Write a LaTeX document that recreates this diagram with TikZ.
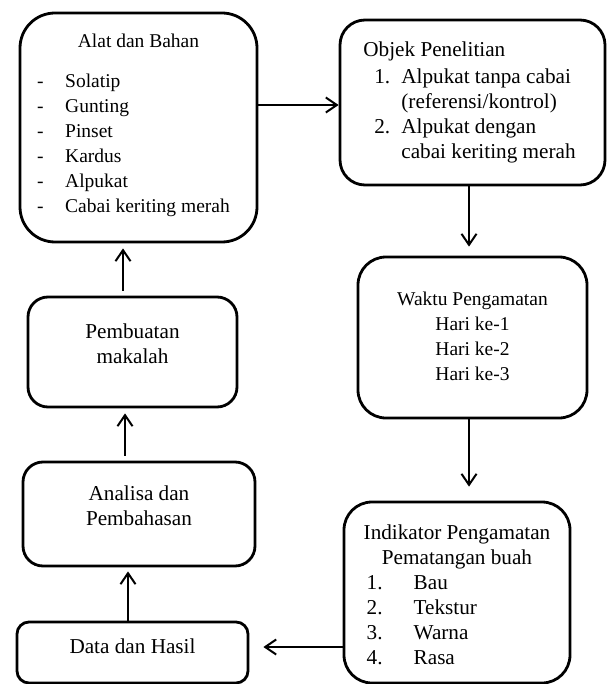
\documentclass[tikz,border=0pt]{standalone}
\usepackage{fontspec}
\setmainfont{Liberation Serif}
\usetikzlibrary{arrows.meta}
\begin{document}
\begin{tikzpicture}[x=1pt, y=-1pt,
  box/.style={draw, line width=2.8pt, rounded corners=#1, inner sep=0pt,
              font=\fontsize{19.5}{25}\selectfont},
  big/.style={font=\fontsize{21.2}{25}\selectfont},
  line/.style={-{Straight Barb[length=11pt,width=15pt]}, line width=2pt}
]
\useasboundingbox (0,0) rectangle (609,684);
\node[box=35pt, minimum width=237pt, minimum height=229pt] (alat) at (138.5,127.5)
  {\begin{tabular}{@{}p{28pt}@{}l@{\hspace{10pt}}}
   \multicolumn{2}{@{}c@{}}{Alat dan Bahan}\\[15pt]
   - & Solatip\\
   - & Gunting\\
   - & Pinset\\
   - & Kardus\\
   - & Alpukat\\
   - & Cabai keriting merah\\[4pt]
   \end{tabular}};
\node[box=25pt, big, minimum width=265pt, minimum height=165pt] (objek) at (472.5,102.5)
  {\begin{tabular}{@{}p{11pt}@{}p{27pt}@{}l@{\hspace{6pt}}}
   \multicolumn{3}{@{}l}{Objek Penelitian}\\[2pt]
   & 1. & Alpukat tanpa cabai\\
   &    & (referensi/kontrol)\\
   & 2. & Alpukat dengan\\
   &    & cabai keriting merah
   \end{tabular}};
\node[box=28pt, minimum width=229pt, minimum height=161pt] (waktu) at (472.5,337.5)
  {\begin{tabular}{@{}c@{}}
   Waktu Pengamatan\\ Hari ke-1\\ Hari ke-2\\ Hari ke-3
   \end{tabular}};
\node[box=28pt, big, minimum width=226pt, minimum height=181pt] (indik) at (457,592.5)
  {\begin{tabular}{@{}p{9pt}@{}p{47pt}@{}l@{}}
   \multicolumn{3}{c}{\rule{0pt}{27pt}Indikator Pengamatan}\\
   \multicolumn{3}{c}{Pematangan buah}\\
   & 1. & Bau\\
   & 2. & Tekstur\\
   & 3. & Warna\\
   & 4. & Rasa
   \end{tabular}};
\node[box=12pt, big, minimum width=231pt, minimum height=61pt] (data) at (132.5,652.5)
  {\begin{tabular}{@{}c@{}}Data dan Hasil\\[9pt]\end{tabular}};
\node[box=20pt, big, minimum width=232pt, minimum height=104pt] (analisa) at (139,514)
  {\begin{tabular}{@{}c@{}}Analisa dan\\ Pembahasan\\[13pt]\end{tabular}};
\node[box=20pt, big, minimum width=209pt, minimum height=110pt] (buat) at (132.5,352)
  {\begin{tabular}{@{}c@{}}Pembuatan\\ makalah\\[13pt]\end{tabular}};
% alur
\draw[line] ([yshift=22.5pt]alat.east) -- ([yshift=22.5pt]alat.east -| objek.west);
\draw[line, shorten >=9pt] ([xshift=-3.5pt]objek.south) -- ([xshift=-3.5pt]objek.south |- waktu.north);
\draw[line, shorten >=14pt] ([xshift=-3.5pt]waktu.south) -- ([xshift=-3.5pt]waktu.south |- indik.north);
\draw[line, shorten >=14pt] ([yshift=5.5pt]data.east -| indik.west) -- ([yshift=5.5pt]data.east);
\draw[line, shorten >=4pt] ([xshift=-4.5pt]data.north) -- ([xshift=-4.5pt]data.north |- analisa.south);
\draw[line, shorten <=5pt, shorten >=5pt] ([xshift=-14pt]analisa.north) -- ([xshift=-14pt]analisa.north |- buat.south);
\draw[line, shorten <=5pt, shorten >=5pt] ([xshift=-9.5pt]buat.north) -- ([xshift=-9.5pt]buat.north |- alat.south);
\end{tikzpicture}
\end{document}
